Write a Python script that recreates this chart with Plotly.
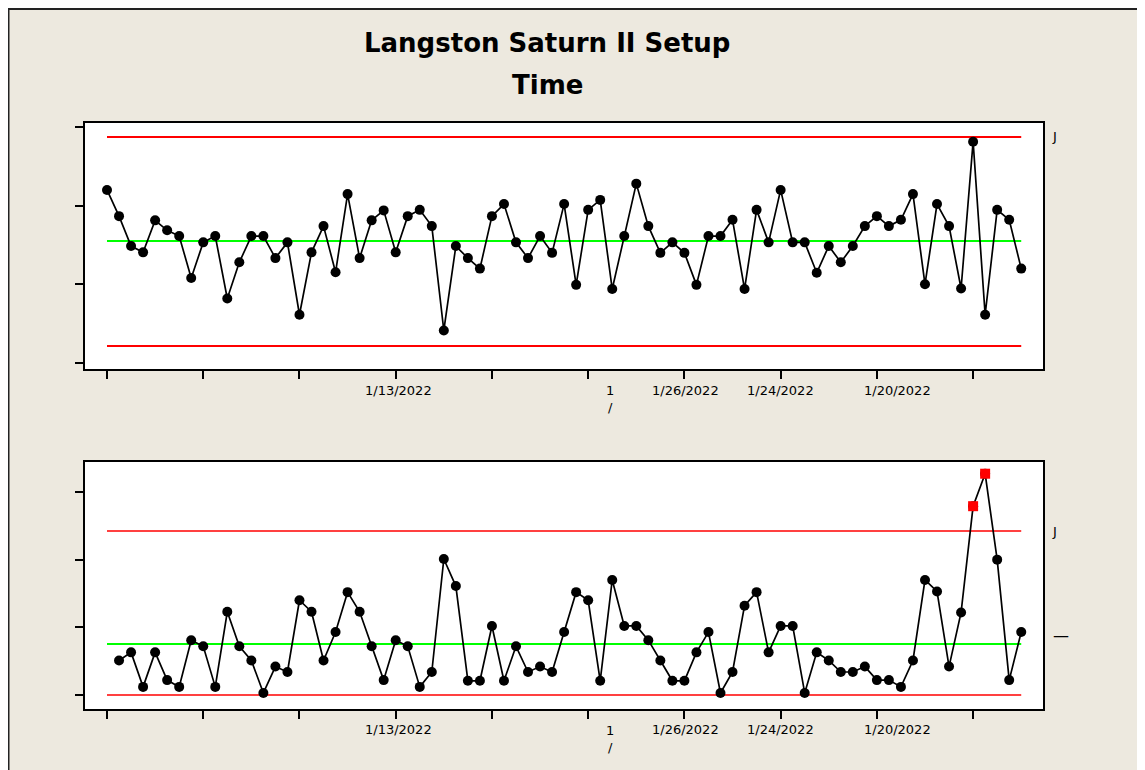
import plotly.graph_objects as go

# Setup time, individuals (one value per observation)
setup_time = [
    33.0, 28.0, 22.3, 21.1, 27.2, 25.3, 24.2, 16.2, 23.0, 24.2,
    12.3, 19.2, 24.2, 24.2, 20.0, 23.0, 9.2, 21.1, 26.1, 17.3,
    32.2, 20.0, 27.2, 29.1, 21.1, 28.0, 29.2, 26.1, 6.2, 22.3,
    20.0, 18.0, 28.0, 30.3, 23.0, 20.0, 24.2, 21.0, 30.3, 14.9,
    29.2, 31.1, 14.1, 24.2, 34.2, 26.1, 21.0, 23.0, 21.0, 14.9,
    24.2, 24.2, 27.3, 14.1, 29.2, 23.0, 33.0, 23.0, 23.0, 17.2,
    22.3, 19.2, 22.3, 26.1, 28.0, 26.1, 27.3, 32.2, 15.0, 30.3,
    26.1, 14.2, 42.2, 9.2, 29.2, 27.3, 18.0,
]

# Moving range, starts at observation 2
moving_range = [
    5.1, 6.3, 1.2, 6.3, 2.2, 1.2, 8.1, 7.2, 1.2, 12.3,
    7.2, 5.1, 0.3, 4.2, 3.4, 14.0, 12.3, 5.1, 9.3, 15.2,
    12.3, 7.2, 2.2, 8.1, 7.2, 1.2, 3.4, 20.1, 16.1, 2.1,
    2.1, 10.2, 2.1, 7.2, 3.4, 4.2, 3.4, 9.3, 15.2, 14.0,
    2.1, 17.0, 10.2, 10.2, 8.1, 5.1, 2.1, 2.1, 6.3, 9.3,
    0.3, 3.4, 13.2, 15.2, 6.3, 10.2, 10.2, 0.3, 6.3, 5.1,
    3.4, 3.4, 4.2, 2.2, 2.2, 1.2, 5.1, 17.0, 15.3, 4.2,
    12.2, 27.9, 32.7, 20.0, 2.2, 9.3,
]

# control limits
i_ucl, i_cl, i_lcl = 43.1, 23.26, 3.24
mr_ucl, mr_cl, mr_lcl = 24.24, 7.54, 0.0

obs = list(range(1, len(setup_time) + 1))
mr_obs = obs[1:]

tick_obs = [1, 9, 17, 25, 33, 41, 49, 57, 65, 73]
date_labels = ["1/13/2022", "1<br>/", "1/26/2022", "1/24/2022", "1/20/2022"]
date_label_obs = [25.2, 42.8, 49.05, 57.0, 66.75]

# page body adds an 8px margin, so the figure is a bit smaller than the window
W, H = 1137, 762
BG = "#EDE9DF"

fig = go.Figure()


def add_limits(xa, ya, ucl, cl, lcl, red_width):
    ends = [obs[0], obs[-1]]
    fig.add_trace(go.Scatter(x=ends, y=[ucl, ucl], mode="lines", xaxis=xa, yaxis=ya,
                             line={"color": "#FF0000", "width": red_width}, hoverinfo="skip"))
    fig.add_trace(go.Scatter(x=ends, y=[lcl, lcl], mode="lines", xaxis=xa, yaxis=ya,
                             line={"color": "#FF0000", "width": red_width}, hoverinfo="skip"))
    fig.add_trace(go.Scatter(x=ends, y=[cl, cl], mode="lines", xaxis=xa, yaxis=ya,
                             line={"color": "#00FF00", "width": 2}, hoverinfo="skip"))


# Individuals chart
add_limits("x", "y", i_ucl, i_cl, i_lcl, 2)
fig.add_trace(go.Scatter(x=obs, y=setup_time, mode="lines+markers", xaxis="x", yaxis="y",
                         line={"color": "black", "width": 1.7},
                         marker={"color": "black", "size": 10}))

# Moving range chart
add_limits("x2", "y2", mr_ucl, mr_cl, mr_lcl, 1.5)
fig.add_trace(go.Scatter(x=mr_obs, y=moving_range, mode="lines+markers", xaxis="x2", yaxis="y2",
                         line={"color": "black", "width": 1.7},
                         marker={"color": "black", "size": 10}))
# points above the MR upper limit
flag_x = [o for o, v in zip(mr_obs, moving_range) if v > mr_ucl]
flag_y = [v for v in moving_range if v > mr_ucl]
fig.add_trace(go.Scatter(x=flag_x, y=flag_y, mode="markers", xaxis="x2", yaxis="y2",
                         marker={"color": "#FF0000", "size": 10, "symbol": "square"}))

axis_common = dict(showline=True, mirror=True, linecolor="black", linewidth=2,
                   ticks="outside", ticklen=8, tickwidth=2, tickcolor="black",
                   showgrid=False, zeroline=False, showticklabels=False, fixedrange=True)

x_dom = [77 / W, 1035 / W]
fig.update_layout(
    width=W, height=H, autosize=False,
    margin=dict(l=0, r=0, t=0, b=0),
    paper_bgcolor=BG, plot_bgcolor="white",
    showlegend=False,
    xaxis=dict(domain=x_dom, range=[-0.829, 78.81], tickvals=tick_obs, anchor="y", **axis_common),
    yaxis=dict(domain=[1 - 361 / H, 1 - 115 / H], range=[-1.144, 45.76],
               tickvals=[0, 15, 30, 45], anchor="x", **axis_common),
    xaxis2=dict(domain=x_dom, range=[-0.829, 78.81], tickvals=tick_obs, anchor="y2", **axis_common),
    yaxis2=dict(domain=[1 - 701 / H, 1 - 454 / H], range=[-2.069, 34.43],
                tickvals=[0, 10, 20, 30], anchor="x2", **axis_common),
)

# frame line along the top and left edge
fig.add_shape(type="line", xref="paper", yref="paper", x0=0, x1=1, y0=1 - 1 / H, y1=1 - 1 / H,
              line={"color": "#222", "width": 2})
fig.add_shape(type="line", xref="paper", yref="paper", x0=0.5 / W, x1=0.5 / W, y0=0, y1=1,
              line={"color": "#222", "width": 2})

title_font = {"family": "DejaVu Sans", "size": 26, "color": "black"}
fig.add_annotation(text="<b>Langston Saturn II Setup</b>", xref="paper", yref="paper",
                   x=539 / W, y=1 - 35 / H, showarrow=False, font=title_font,
                   xanchor="center", yanchor="middle")
fig.add_annotation(text="<b>Time</b>", xref="paper", yref="paper",
                   x=539 / W, y=1 - 77 / H, showarrow=False, font=title_font,
                   xanchor="center", yanchor="middle")

# date tick labels, under both charts
label_font = {"family": "DejaVu Sans", "size": 13, "color": "black"}
for xa, y_one, y_two in [("x", 1 - 382 / H, 1 - 391 / H), ("x2", 1 - 721 / H, 1 - 730.5 / H)]:
    for pos, lab in zip(date_label_obs, date_labels):
        fig.add_annotation(text=lab, xref=xa, yref="paper", x=pos,
                           y=y_two if "<br>" in lab else y_one,
                           showarrow=False, font=label_font,
                           xanchor="center", yanchor="middle")

# clipped limit labels at the right
fig.add_annotation(text="J", xref="paper", yref="paper", x=1046 / W, y=1 - 128 / H,
                   showarrow=False, font=label_font, xanchor="center", yanchor="middle")
fig.add_annotation(text="J", xref="paper", yref="paper", x=1046 / W, y=1 - 523 / H,
                   showarrow=False, font=label_font, xanchor="center", yanchor="middle")
fig.add_annotation(text="—", xref="paper", yref="paper", x=1053 / W, y=1 - 627 / H,
                   showarrow=False, font={"family": "DejaVu Sans", "size": 16, "color": "black"},
                   xanchor="center", yanchor="middle")

fig.write_html("out.html")
